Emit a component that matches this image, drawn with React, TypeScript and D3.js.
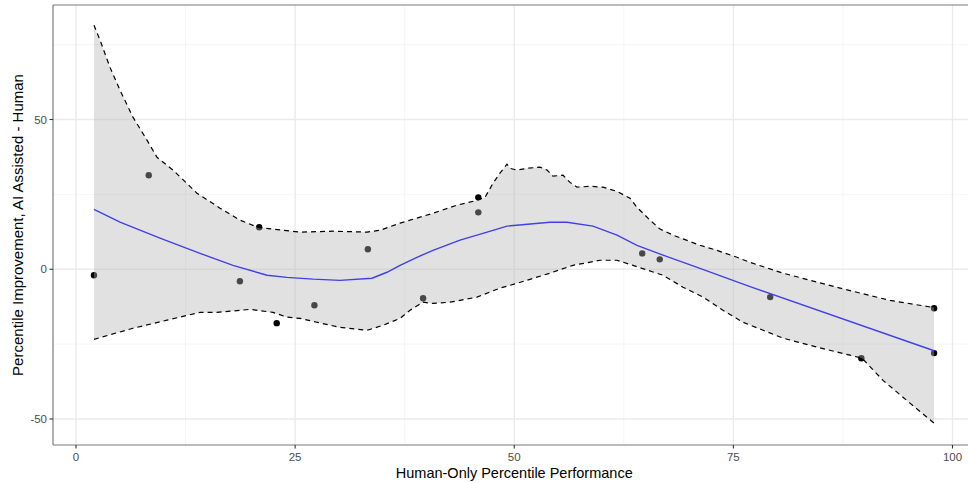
import React from "react";
import * as d3 from "d3";

const pointX = [2.05, 8.3, 18.7, 20.9, 22.9, 27.2, 33.3, 39.6, 45.9, 45.9, 64.6, 66.6, 79.2, 89.6, 97.9, 97.9];
const pointY = [-2.0, 31.4, -4.0, 14.0, -18.0, -12.0, 6.7, -9.7, 24.0, 19.0, 5.3, 3.3, -9.3, -29.7, -13.0, -28.0];

const upperX = [2.05, 2.74, 3.88, 5.02, 6.5, 8.1, 9.24, 11.07, 13.8, 16.43, 18.71, 20.76, 23.62, 25.56, 29.32, 33.2, 34.68, 36.97, 40.73, 43.47, 45.75, 46.66, 47.58, 48.37, 49.17, 49.52, 50.31, 51.45, 52.94, 53.74, 54.42, 55.56, 56.36, 57.16, 58.64, 60.13, 61.72, 63.21, 64.0, 65.49, 66.63, 68.11, 71.19, 73.13, 75.41, 76.9, 80.66, 87.17, 92.87, 97.9];
const upperY = [81.5, 76.5, 67.4, 59.8, 50.8, 43.1, 37.4, 33.1, 25.4, 20.4, 16.4, 14.0, 13.0, 12.4, 12.7, 12.4, 13.0, 15.4, 18.7, 21.4, 23.0, 24.0, 28.7, 32.1, 35.1, 33.7, 33.1, 33.7, 34.1, 33.1, 31.1, 31.4, 29.0, 27.4, 27.7, 27.4, 26.0, 23.7, 20.7, 16.4, 13.4, 11.4, 8.0, 6.3, 4.0, 2.3, -1.3, -6.3, -10.4, -12.8];

const lowerX = [2.05, 6.5, 10.38, 14.15, 16.09, 19.85, 22.48, 24.07, 25.56, 27.5, 30.12, 33.2, 35.03, 36.97, 38.11, 39.59, 40.73, 42.67, 45.75, 48.37, 50.31, 54.08, 56.7, 59.78, 61.72, 63.55, 66.97, 69.25, 71.53, 73.81, 76.1, 80.66, 84.54, 88.31, 89.68, 92.07, 95.15, 97.9];
const lowerY = [-23.4, -19.7, -17.0, -14.4, -14.4, -13.4, -14.4, -16.0, -16.4, -17.7, -19.4, -20.4, -18.7, -16.4, -13.7, -11.0, -11.4, -11.0, -9.3, -6.3, -4.7, -1.3, 1.3, 3.0, 3.0, 1.3, -2.0, -6.0, -9.3, -13.7, -17.7, -23.0, -26.0, -28.7, -29.7, -37.1, -44.7, -51.4];

const fitX = [2.05, 5.02, 9.58, 14.15, 17.91, 21.79, 24.07, 27.04, 30.12, 33.77, 35.48, 36.97, 38.9, 40.73, 43.81, 46.43, 49.17, 54.08, 56.02, 58.98, 61.72, 64.0, 66.97, 71.19, 76.9, 97.9];
const fitY = [20.0, 15.7, 10.4, 5.3, 1.3, -2.0, -2.7, -3.3, -3.7, -3.0, -1.0, 1.3, 4.0, 6.3, 9.7, 12.0, 14.4, 15.7, 15.7, 14.4, 11.4, 8.0, 4.7, 0.3, -5.8, -27.2];

const xTicks = [0, 25, 50, 75, 100];
const yTicks = [-50, 0, 50];
const xMinor = [12.5, 37.5, 62.5, 87.5];
const yMinor = [-25, 25, 75];

export default function App() {
  const W = 968, H = 483;
  const left = 53, top = 5, bottom = 445;
  const x = d3.scaleLinear().domain([0, 100]).range([76, 952.5]);
  const y = d3.scaleLinear().domain([-50, 50]).range([419, 119.5]);
  const right = W + 20;

  const line = d3.line<[number, number]>().x(d => x(d[0])).y(d => y(d[1]));
  const upper: [number, number][] = upperX.map((v, i) => [v, upperY[i]]);
  const lower: [number, number][] = lowerX.map((v, i) => [v, lowerY[i]]);
  const fit: [number, number][] = fitX.map((v, i) => [v, fitY[i]]);
  const ribbon = line([...upper, ...lower.slice().reverse()]) + "Z";

  const tickColor = "#4d4d4d";
  const font = "Liberation Sans, Arial, sans-serif";

  return (
    <svg width={W} height={H} style={{ position: "absolute", left: 0, top: 0, background: "#fff" }} fontFamily={font}>
      <rect x={0} y={0} width={W} height={H} fill="#fff" />
      <defs>
        <clipPath id="panel">
          <rect x={left} y={top} width={right - left} height={bottom - top} />
        </clipPath>
      </defs>
      <g clipPath="url(#panel)">
        {xMinor.map(t => (
          <line key={"xm" + t} x1={x(t)} x2={x(t)} y1={top} y2={bottom} stroke="#f2f2f2" strokeWidth={0.8} />
        ))}
        {yMinor.map(t => (
          <line key={"ym" + t} x1={left} x2={right} y1={y(t)} y2={y(t)} stroke="#f2f2f2" strokeWidth={0.8} />
        ))}
        {xTicks.map(t => (
          <line key={"xg" + t} x1={x(t)} x2={x(t)} y1={top} y2={bottom} stroke="#ebebeb" strokeWidth={1.4} />
        ))}
        {yTicks.map(t => (
          <line key={"yg" + t} x1={left} x2={right} y1={y(t)} y2={y(t)} stroke="#ebebeb" strokeWidth={1.4} />
        ))}
        {pointX.map((v, i) => (
          <circle key={"p" + i} cx={x(v)} cy={y(pointY[i])} r={3.2} fill="#000" />
        ))}
        <path d={ribbon} fill="rgb(181,181,181)" fillOpacity={0.4} stroke="none" />
        <path d={line(fit) || ""} fill="none" stroke="#4040E8" strokeWidth={1.4} />
        <path d={line(upper) || ""} fill="none" stroke="#000" strokeWidth={1.2} strokeDasharray="5,4" />
        <path d={line(lower) || ""} fill="none" stroke="#000" strokeWidth={1.2} strokeDasharray="5,4" />
      </g>
      <line x1={left} x2={right} y1={top} y2={top} stroke="#7a7a7a" strokeWidth={1.2} />
      <line x1={left} x2={left} y1={top} y2={bottom} stroke="#7a7a7a" strokeWidth={1.2} />
      <line x1={left} x2={right} y1={bottom} y2={bottom} stroke="#7a7a7a" strokeWidth={1.2} />
      {xTicks.map(t => (
        <g key={"xt" + t}>
          <line x1={x(t)} x2={x(t)} y1={bottom} y2={bottom + 3.5} stroke="#333" strokeWidth={1.1} />
          <text x={x(t)} y={bottom + 16} textAnchor="middle" fontSize={11.5} fill={tickColor}>{t}</text>
        </g>
      ))}
      {yTicks.map(t => (
        <g key={"yt" + t}>
          <line x1={left - 3.5} x2={left} y1={y(t)} y2={y(t)} stroke="#333" strokeWidth={1.1} />
          <text x={left - 6} y={y(t) + 4} textAnchor="end" fontSize={11.5} fill={tickColor}>{t}</text>
        </g>
      ))}
      <text x={x(50)} y={477.5} textAnchor="middle" fontSize={14.5} fill="#000">Human-Only Percentile Performance</text>
      <text transform={`translate(23, ${(top + bottom) / 2}) rotate(-90)`} textAnchor="middle" fontSize={15} fill="#000">
        Percentile Improvement, AI Assisted - Human
      </text>
    </svg>
  );
}
